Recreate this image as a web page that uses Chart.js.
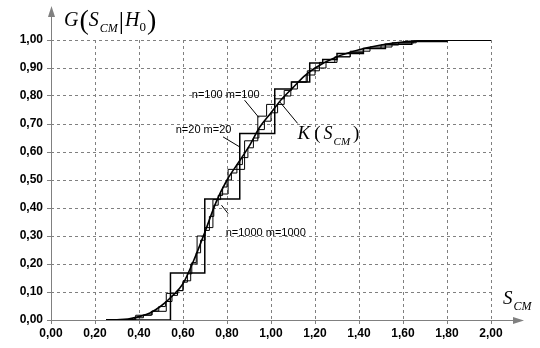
<!DOCTYPE html>
<html>
<head>
<meta charset="utf-8">
<script src="https://cdn.jsdelivr.net/npm/chart.js@4.4.0/dist/chart.umd.min.js"></script>
<style>
  html, body { margin: 0; padding: 0; background: #fff; }
</style>
</head>
<body>
<canvas id="cdfChart" width="540" height="348"></canvas>
<script>
// limiting distribution K(S_CM)
const kX = [0.25, 0.30, 0.35, 0.40, 0.45, 0.50, 0.55, 0.60, 0.65, 0.70, 0.75, 0.80, 0.85, 0.90,
  0.95, 1.00, 1.05, 1.10, 1.15, 1.20, 1.30, 1.40, 1.50, 1.60, 1.70, 1.80, 2.00]
const kY = [0.000, 0.001, 0.003, 0.012, 0.025, 0.050, 0.085, 0.130, 0.215, 0.315, 0.420, 0.500, 0.560, 0.620,
  0.690, 0.740, 0.790, 0.830, 0.870, 0.900, 0.940, 0.965, 0.982, 0.993, 0.998, 1.000, 1.000]

// empirical distributions, points where the step jumps (x) and the level after it (y)
const n20X = [0.25, 0.543, 0.699, 0.858, 1.017, 1.093, 1.176, 1.235, 1.30, 1.42, 1.52, 1.64, 1.80, 2.00]
const n20Y = [0.000, 0.168, 0.432, 0.666, 0.825, 0.850, 0.918, 0.930, 0.952, 0.970, 0.985, 0.995, 1.000, 1.000]

const n100X = [0.25, 0.385, 0.456, 0.524, 0.577, 0.600, 0.635, 0.664, 0.700, 0.736, 0.771, 0.805, 0.880,
  0.940, 0.980, 1.017, 1.060, 1.093, 1.165, 1.220, 1.290, 1.360, 1.450, 1.550, 1.650, 1.800, 2.000]
const n100Y = [0.000, 0.017, 0.031, 0.095, 0.105, 0.140, 0.200, 0.300, 0.330, 0.430, 0.450, 0.538, 0.640,
  0.728, 0.770, 0.790, 0.820, 0.850, 0.890, 0.920, 0.940, 0.960, 0.975, 0.990, 0.997, 1.000, 1.000]

const n1000X = [0.25, 0.33, 0.38, 0.42, 0.46, 0.49, 0.52, 0.55, 0.575, 0.60, 0.62, 0.64, 0.66, 0.68, 0.70,
  0.72, 0.74, 0.76, 0.78, 0.80, 0.82, 0.845, 0.87, 0.895, 0.92, 0.945, 0.97, 1.00, 1.03, 1.06, 1.09,
  1.12, 1.16, 1.20, 1.25, 1.30, 1.36, 1.42, 1.50, 1.58, 1.66, 1.76, 2.00]
const n1000Y = [0.000, 0.002, 0.008, 0.018, 0.032, 0.048, 0.066, 0.088, 0.105, 0.135, 0.165, 0.205, 0.240,
  0.285, 0.320, 0.370, 0.410, 0.445, 0.475, 0.500, 0.525, 0.555, 0.580, 0.615, 0.650, 0.680, 0.710,
  0.740, 0.770, 0.800, 0.825, 0.850, 0.875, 0.900, 0.920, 0.940, 0.955, 0.970, 0.982, 0.990, 0.996,
  1.000, 1.000]

// curve captions: text, anchor and leader line, all in data units
const noteText = ['n=100 m=100', 'n=20 m=20', 'n=1000 m=1000']
const noteX = [0.640, 0.567, 0.794]
const noteY = [0.792, 0.667, 0.299]
const leadFromX = [0.880, 0.782, 0.805]
const leadFromY = [0.785, 0.654, 0.380]
const leadToX = [0.945, 0.858, 0.775]
const leadToY = [0.723, 0.618, 0.410]

function toPoints(xs, ys) {
  return xs.map((v, i) => ({ x: v, y: ys[i] }))
}

function fmt(v) {
  return v.toFixed(2).replace('.', ',')
}

// italic letter with small italic subscript, returns width
function drawSub(ctx, px, py, main, sub, size) {
  ctx.font = 'italic ' + size + 'px "Liberation Serif"'
  ctx.fillText(main, px, py)
  const w = ctx.measureText(main).width
  ctx.font = 'italic ' + Math.round(size * 0.62) + 'px "Liberation Serif"'
  ctx.fillText(sub, px + w + 1, py + size * 0.3)
  return w + 1 + ctx.measureText(sub).width
}

const axesPlugin = {
  id: 'axesArrows',
  beforeDatasetsDraw(chart) {
    const { ctx, chartArea } = chart
    const l = chartArea.left, b = chartArea.bottom
    ctx.save()
    ctx.strokeStyle = '#808080'
    ctx.fillStyle = '#808080'
    ctx.lineWidth = 1
    ctx.beginPath()
    ctx.moveTo(l + 0.5, b + 0.5)
    ctx.lineTo(l + 0.5, 14)
    ctx.moveTo(l, b + 0.5)
    ctx.lineTo(516, b + 0.5)
    ctx.stroke()
    ctx.beginPath()
    ctx.moveTo(l + 0.5, 6)
    ctx.lineTo(l - 3, 17)
    ctx.lineTo(l + 4, 17)
    ctx.closePath()
    ctx.fill()
    ctx.beginPath()
    ctx.moveTo(524, b + 0.5)
    ctx.lineTo(513, b - 3)
    ctx.lineTo(513, b + 4)
    ctx.closePath()
    ctx.fill()
    ctx.restore()
  },
  afterDatasetsDraw(chart) {
    const { ctx, chartArea, scales } = chart
    const sx = scales.x, sy = scales.y
    ctx.save()
    ctx.fillStyle = '#000'
    ctx.strokeStyle = '#000'
    ctx.lineWidth = 1
    ctx.textBaseline = 'alphabetic'

    // captions with leader lines
    ctx.font = '11px "Liberation Sans"'
    noteText.forEach((t, i) => {
      ctx.fillText(t, sx.getPixelForValue(noteX[i]), sy.getPixelForValue(noteY[i]))
      ctx.beginPath()
      ctx.moveTo(sx.getPixelForValue(leadFromX[i]), sy.getPixelForValue(leadFromY[i]))
      ctx.lineTo(sx.getPixelForValue(leadToX[i]), sy.getPixelForValue(leadToY[i]))
      ctx.stroke()
    })

    // K(S_CM) caption
    let kx = sx.getPixelForValue(1.121), ky = sy.getPixelForValue(0.645)
    ctx.beginPath()
    ctx.moveTo(kx, ky - 16)
    ctx.lineTo(sx.getPixelForValue(1.04), sy.getPixelForValue(0.779))
    ctx.stroke()
    ctx.font = 'italic 19px "Liberation Serif"'
    ctx.fillText('K', kx, ky)
    kx += ctx.measureText('K').width + 4
    ctx.font = '19px "Liberation Serif"'
    ctx.fillText('(', kx, ky)
    kx += ctx.measureText('(').width + 3
    kx += drawSub(ctx, kx, ky, 'S', 'CM', 18) + 3
    ctx.font = '19px "Liberation Serif"'
    ctx.fillText(')', kx, ky)

    // y title G(S_CM|H_0)
    let tx = chartArea.left + 13, ty = 26
    ctx.font = 'italic 20px "Liberation Serif"'
    ctx.fillText('G', tx, ty)
    tx += ctx.measureText('G').width + 1
    ctx.font = '28px "Liberation Serif"'
    ctx.fillText('(', tx, ty + 3)
    tx += ctx.measureText('(').width
    tx += drawSub(ctx, tx, ty, 'S', 'CM', 20) + 1
    ctx.font = '26px "Liberation Serif"'
    ctx.fillText('|', tx, ty + 3)
    tx += ctx.measureText('|').width + 1
    ctx.font = 'italic 20px "Liberation Serif"'
    ctx.fillText('H', tx, ty)
    tx += ctx.measureText('H').width
    ctx.font = '13px "Liberation Serif"'
    ctx.fillText('0', tx, ty + 5)
    tx += ctx.measureText('0').width + 1
    ctx.font = '28px "Liberation Serif"'
    ctx.fillText(')', tx, ty + 3)

    // x title S_CM
    drawSub(ctx, chartArea.right + 12, chartArea.bottom - 16, 'S', 'CM', 19)
    ctx.restore()
  }
}

window.addEventListener('load', function () {
  const ctxCdf = document.getElementById('cdfChart').getContext('2d')
  const lineStyle = { borderColor: '#000', pointRadius: 0, fill: false }
  window.cdfChart = new Chart(ctxCdf, {
    type: 'line',
    data: {
      datasets: [
        Object.assign({ label: 'n=20 m=20', data: toPoints(n20X, n20Y), stepped: true, borderWidth: 1.5 }, lineStyle),
        Object.assign({ label: 'n=100 m=100', data: toPoints(n100X, n100Y), stepped: true, borderWidth: 1 }, lineStyle),
        Object.assign({ label: 'n=1000 m=1000', data: toPoints(n1000X, n1000Y), stepped: true, borderWidth: 1 }, lineStyle),
        Object.assign({ label: 'K', data: toPoints(kX, kY), cubicInterpolationMode: 'monotone', borderWidth: 1.6 }, lineStyle)
      ]
    },
    options: {
      responsive: false,
      animation: false,
      layout: { padding: { top: 40, right: 49, left: 0, bottom: 0 } },
      plugins: { legend: { display: false }, tooltip: { enabled: false } },
      scales: {
        x: {
          type: 'linear',
          min: 0,
          max: 2,
          afterFit: s => { s.height = 28 },
          border: { display: false, dash: [3, 3] },
          grid: { color: '#808080', tickColor: '#808080', tickLength: 4, tickBorderDash: [] },
          ticks: {
            stepSize: 0.2, padding: 2, color: '#000', maxRotation: 0,
            font: { family: 'Liberation Sans', size: 12, weight: 'bold' },
            callback: v => fmt(v)
          }
        },
        y: {
          min: 0,
          max: 1,
          afterFit: s => { s.width = 51 },
          border: { display: false, dash: [3, 3] },
          grid: { color: '#808080', tickColor: '#808080', tickLength: 4, tickBorderDash: [] },
          ticks: {
            stepSize: 0.1, padding: 4, color: '#000',
            font: { family: 'Liberation Sans', size: 12, weight: 'bold' },
            callback: v => fmt(v)
          }
        }
      }
    },
    plugins: [axesPlugin]
  })
})
</script>
</body>
</html>
